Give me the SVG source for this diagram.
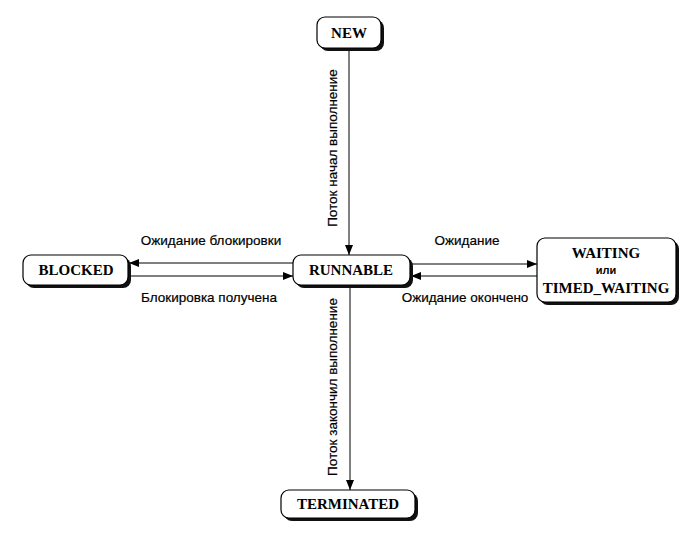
<svg xmlns="http://www.w3.org/2000/svg" width="695" height="533" viewBox="0 0 695 533">
<style>
.box{fill:#fff;stroke:#000;stroke-width:1.2}
.sh{fill:#111}
.nl{font-family:"Liberation Serif","Times New Roman",serif;font-weight:bold;font-size:15px;fill:#000;text-anchor:middle}
.el{font-family:"Liberation Sans",Arial,sans-serif;font-size:13.5px;fill:#000;stroke:#000;stroke-width:0.2;text-anchor:middle}
.ln{stroke:#000;stroke-width:1;fill:none}
</style>
<defs>
<marker id="ah" viewBox="0 0 10 8" refX="10" refY="4" markerWidth="10" markerHeight="8" markerUnits="userSpaceOnUse" orient="auto">
<path d="M0,0 L10,4 L0,8 Z" fill="#000"/>
</marker>
</defs>
<rect width="695" height="533" fill="#fff"/>
<g id="connectors">
<line class="ln" x1="349" y1="49" x2="349" y2="255" marker-end="url(#ah)"/>
<text class="el" transform="translate(337,148) rotate(-90)">Поток начал выполнение</text>
<line class="ln" x1="350" y1="286" x2="350" y2="490" marker-end="url(#ah)"/>
<text class="el" transform="translate(337,387) rotate(-90)">Поток закончил выполнение</text>
<line class="ln" x1="293" y1="263" x2="129" y2="263" marker-end="url(#ah)"/>
<text class="el" x="211" y="245">Ожидание блокировки</text>
<line class="ln" x1="129" y1="276" x2="293" y2="276" marker-end="url(#ah)"/>
<text class="el" x="209" y="302">Блокировка получена</text>
<line class="ln" x1="411" y1="264" x2="537" y2="264" marker-end="url(#ah)"/>
<text class="el" x="467" y="245">Ожидание</text>
<line class="ln" x1="537" y1="276" x2="411" y2="276" marker-end="url(#ah)"/>
<text class="el" x="465" y="302">Ожидание окончено</text>
</g>
<g id="new">
<rect class="sh" x="320" y="20" width="64" height="31" rx="8"/>
<rect class="box" x="317" y="17" width="64" height="31" rx="8"/>
<text class="nl" x="349" y="38">NEW</text>
</g>
<g id="blocked">
<rect class="sh" x="26" y="258" width="105" height="30" rx="8"/>
<rect class="box" x="23" y="255" width="105" height="30" rx="8"/>
<text class="nl" x="76" y="275">BLOCKED</text>
</g>
<g id="runnable">
<rect class="sh" x="296" y="258" width="117" height="30" rx="8"/>
<rect class="box" x="293" y="255" width="117" height="30" rx="8"/>
<text class="nl" x="351" y="275">RUNNABLE</text>
</g>
<g id="waiting">
<rect class="sh" x="540" y="241" width="139" height="64" rx="8"/>
<rect class="box" x="537" y="238" width="139" height="64" rx="8"/>
<text class="nl" x="606" y="258">WAITING</text>
<text x="606" y="274" text-anchor="middle" font-family="Liberation Sans,Arial,sans-serif" font-weight="bold" font-size="11px">или</text>
<text class="nl" x="606" y="293">TIMED_WAITING</text>
</g>
<g id="terminated">
<rect class="sh" x="284" y="493" width="134" height="28" rx="8"/>
<rect class="box" x="281" y="490" width="134" height="28" rx="8"/>
<text class="nl" x="348" y="509">TERMINATED</text>
</g>
</svg>
